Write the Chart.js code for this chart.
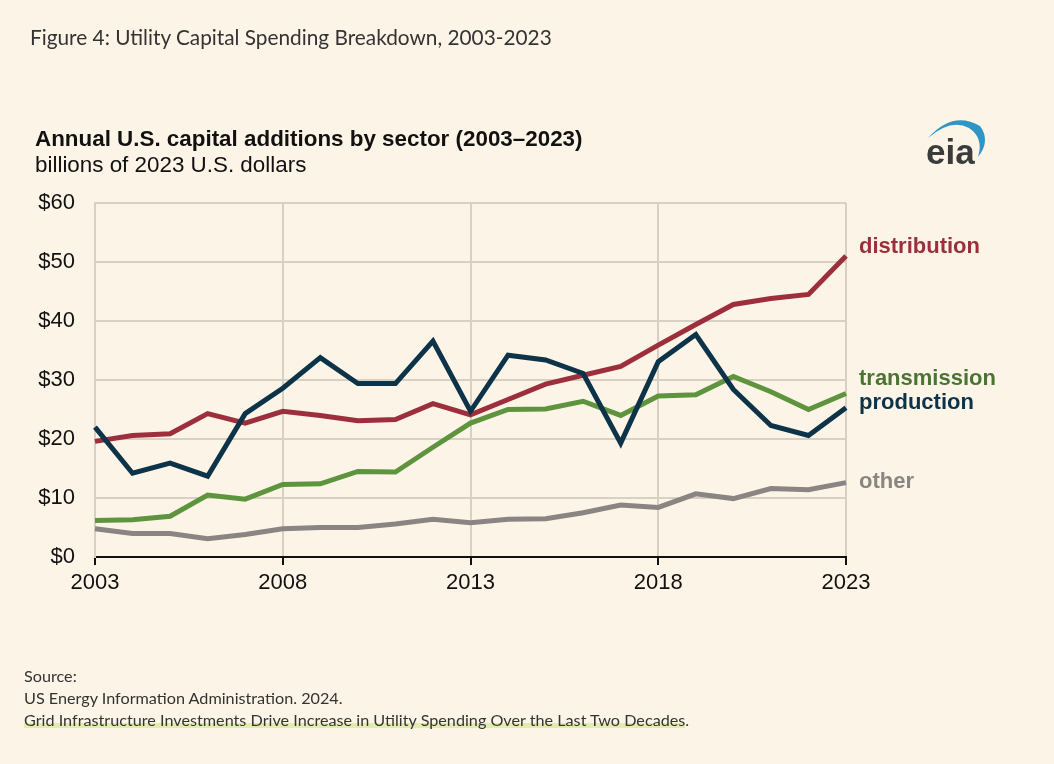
<!DOCTYPE html>
<html>
<head>
<meta charset="utf-8">
<title>Utility Capital Spending Breakdown</title>
<script src="https://cdn.jsdelivr.net/npm/chart.js@4.4.1/dist/chart.umd.min.js"></script>
<style>
  body { margin: 0; background: #fdf4e8; }
  #wrap { position: relative; width: 1054px; height: 764px; overflow: hidden; background: #fdf4e8; }
  #chart { position: absolute; left: 0; top: 0; }
  .fig { position: absolute; left: 30px; top: 24px; font: 20.8px Lato, "Open Sans", sans-serif; color: #333; white-space: nowrap; }
  .ttl { position: absolute; left: 35px; top: 126px; font: bold 22.4px "Liberation Sans", Arial, sans-serif; color: #111; white-space: nowrap; }
  .sub { position: absolute; left: 35px; top: 152px; font: 22.4px "Liberation Sans", Arial, sans-serif; color: #111; white-space: nowrap; }
  .src { position: absolute; left: 24px; font: 16.2px Lato, "Open Sans", sans-serif; color: #333; white-space: nowrap; }
  .hl { background: linear-gradient(transparent 68%, #e2ecae 68%, #e2ecae 96%, transparent 96%); }
  #logo { position: absolute; left: 915px; top: 108px; }
</style>
</head>
<body>
<div id="wrap">
  <canvas id="chart" width="1054" height="764"></canvas>
  <div class="fig">Figure 4: Utility Capital Spending Breakdown, 2003-2023</div>
  <div class="ttl">Annual U.S. capital additions by sector (2003–2023)</div>
  <div class="sub">billions of 2023 U.S. dollars</div>
  <svg id="logo" width="90" height="64" viewBox="915 108 90 64">
    <path d="M928,138 Q953,110 980,126 Q991,141 978,157 Q984,138 969,128 Q951,118 928,138 Z" fill="#2f95c6"/>
    <text x="926" y="164" font-family="Liberation Sans, Arial, sans-serif" font-weight="bold" font-size="35" fill="#3b3b3b">eia</text>
  </svg>
  <div class="src" style="top:666px">Source:</div>
  <div class="src" style="top:688px">US Energy Information Administration. 2024.</div>
  <div class="src" style="top:710px"><span class="hl">Grid Infrastructure Investments Drive Increase in Utility Spending Over the Last Two Decades</span>.</div>
</div>
<script>
// data (billions of 2023 dollars)
const years = [2003, 2004, 2005, 2006, 2007, 2008, 2009, 2010, 2011, 2012, 2013,
               2014, 2015, 2016, 2017, 2018, 2019, 2020, 2021, 2022, 2023];
const production   = [22.0, 14.2, 15.9, 13.7, 24.3, 28.6, 33.8, 29.4, 29.4, 36.6, 24.7,
                      34.2, 33.4, 31.1, 19.3, 33.1, 37.7, 28.4, 22.3, 20.6, 25.3];
const distribution = [19.6, 20.6, 20.9, 24.3, 22.7, 24.7, 24.0, 23.1, 23.3, 26.0, 24.1,
                      26.7, 29.3, 30.8, 32.3, 35.9, 39.4, 42.8, 43.8, 44.5, 51.0];
const transmission = [6.2, 6.3, 6.9, 10.5, 9.8, 12.3, 12.4, 14.5, 14.4, 18.6, 22.7,
                      25.0, 25.1, 26.4, 24.0, 27.3, 27.5, 30.6, 28.0, 25.0, 27.7];
const other        = [4.8, 4.0, 4.0, 3.1, 3.8, 4.8, 5.0, 5.0, 5.6, 6.4, 5.8,
                      6.4, 6.5, 7.5, 8.8, 8.4, 10.7, 9.9, 11.6, 11.4, 12.6];
const xTicks = [2003, 2008, 2013, 2018, 2023];
const yTicks = [0, 10, 20, 30, 40, 50, 60];

const gridColor = '#d9d0c4';
const labelFont = 'bold 22px "Liberation Sans", Arial, sans-serif';

function points(vals) {
  return years.map((y, i) => ({ x: y, y: vals[i] }));
}

function series(name, vals, color, textColor, dy) {
  return {
    label: name,
    data: points(vals),
    borderColor: color,
    borderWidth: 5,
    pointRadius: 0,
    tension: 0,
    clip: false,
    labelColor: textColor,
    labelDy: dy
  };
}

// draws the series names at the right end of each line
const endLabels = {
  id: 'endLabels',
  afterDatasetsDraw(chart) {
    const ctx = chart.ctx;
    ctx.save();
    ctx.font = labelFont;
    ctx.textAlign = 'left';
    ctx.textBaseline = 'middle';
    chart.data.datasets.forEach((ds, i) => {
      const meta = chart.getDatasetMeta(i);
      const last = meta.data[meta.data.length - 1];
      ctx.fillStyle = ds.labelColor;
      ctx.fillText(ds.label, last.x + 13, last.y + ds.labelDy);
    });
    ctx.restore();
  }
};

new Chart(document.getElementById('chart'), {
  type: 'line',
  data: {
    datasets: [
      series('production', production, '#0d3349', '#0d3349', -5),
      series('distribution', distribution, '#9d2f3d', '#9d2f3d', -9),
      series('transmission', transmission, '#5f943f', '#4a7432', -15),
      series('other', other, '#8a8582', '#8a8582', -1)
    ]
  },
  options: {
    responsive: false,
    animation: false,
    devicePixelRatio: 1,
    layout: { padding: { left: 0, top: 203, right: 208, bottom: 167 } },
    plugins: { legend: { display: false }, tooltip: { enabled: false } },
    scales: {
      x: {
        type: 'linear',
        min: 2003,
        max: 2023,
        afterBuildTicks: s => { s.ticks = xTicks.map(v => ({ value: v })); },
        afterFit: s => { s.height = 40; },
        grid: { color: gridColor, lineWidth: 2, tickColor: '#111', tickLength: 8 },
        border: { color: '#111', width: 2 },
        ticks: {
          padding: 5,
          color: '#111',
          font: { family: '"Liberation Sans", Arial, sans-serif', size: 22 },
          maxRotation: 0,
          callback: v => String(v)
        }
      },
      y: {
        min: 0,
        max: 60,
        afterBuildTicks: s => { s.ticks = yTicks.map(v => ({ value: v })); },
        afterFit: s => { s.width = 95; },
        grid: { color: gridColor, lineWidth: 2, drawTicks: false },
        border: { color: gridColor, width: 2 },
        ticks: {
          padding: 20,
          color: '#111',
          font: { family: '"Liberation Sans", Arial, sans-serif', size: 22 },
          callback: v => '$' + v
        }
      }
    }
  },
  plugins: [endLabels]
});
</script>
</body>
</html>
